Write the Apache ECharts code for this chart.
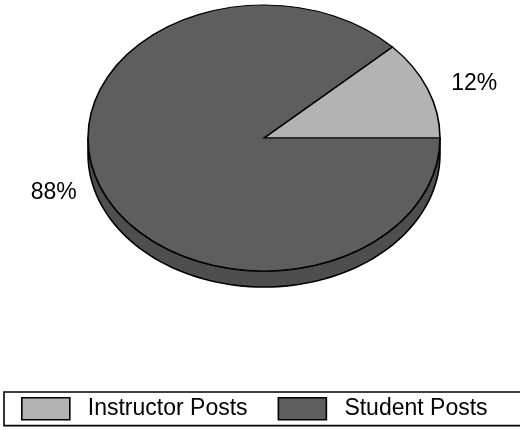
<!DOCTYPE html>
<html>
<head>
<meta charset="utf-8">
<script src="https://cdn.jsdelivr.net/npm/echarts@6/dist/echarts.min.js"></script>
<style>
html,body{margin:0;padding:0;background:#fff;}
#chart{width:520px;height:430px;}
</style>
</head>
<body>
<div id="chart"></div>
<script>
const categories = ['Instructor Posts', 'Student Posts'];
const values = [12, 88];
const topColors = ['#b3b3b3', '#5e5e5e'];
const sideColors = ['#8c8c8c', '#4e4e4e'];

const FONT = '"Liberation Sans", Arial, sans-serif';
const total = values.reduce((a, b) => a + b, 0);
const starts = [];
let acc = 0;
values.forEach(v => { starts.push(acc); acc += v; });

const CX = 264, CY = 138, RX = 176, RY = 133, DEPTH = 16;

function makeRender(i) {
  return function (params, api) {
    const s0 = api.value(0), s1 = api.value(1);
    const a0 = s0 / total * Math.PI * 2;
    const a1 = s1 / total * Math.PI * 2;
    const children = [];
    const lo = Math.max(a0, Math.PI), hi = Math.min(a1, Math.PI * 2);
    if (hi > lo) {
      const pts = [];
      const n = 80;
      for (let k = 0; k <= n; k++) {
        const t = lo + (hi - lo) * k / n;
        pts.push([CX + RX * Math.cos(t), CY - RY * Math.sin(t)]);
      }
      for (let k = n; k >= 0; k--) {
        const t = lo + (hi - lo) * k / n;
        pts.push([CX + RX * Math.cos(t), CY - RY * Math.sin(t) + DEPTH]);
      }
      children.push({
        type: 'polygon',
        shape: { points: pts },
        style: { fill: sideColors[i], stroke: '#000', lineWidth: 1.6 }
      });
    }
    children.push({
      type: 'group',
      x: CX, y: CY, scaleY: RY / RX,
      children: [{
        type: 'sector',
        shape: { cx: 0, cy: 0, r0: 0, r: RX, startAngle: -a1, endAngle: -a0, clockwise: true },
        style: { fill: topColors[i], stroke: '#000', lineWidth: 1.6, strokeNoScale: true }
      }]
    });
    const m = (a0 + a1) / 2;
    children.push({
      type: 'text',
      x: CX + RX * 1.285 * Math.cos(m),
      y: CY - RY * 1.12 * Math.sin(m),
      style: {
        text: Math.round(values[i] / total * 100) + '%',
        fill: '#000',
        fontSize: 23,
        fontFamily: FONT,
        align: 'center',
        verticalAlign: 'middle'
      }
    });
    return { type: 'group', children: children };
  };
}

const series = categories.map((name, i) => ({
  name: name,
  type: 'custom',
  coordinateSystem: 'none',
  itemStyle: { color: topColors[i] },
  data: [[starts[i], starts[i] + values[i]]],
  renderItem: makeRender(i),
  silent: true
}));

const chart = echarts.init(document.getElementById('chart'), null, { renderer: 'canvas' });
chart.setOption({
  animation: false,
  backgroundColor: '#fff',
  legend: {
    data: categories,
    left: 4,
    top: 392,
    width: 500,
    orient: 'horizontal',
    icon: 'rect',
    itemWidth: 48,
    itemHeight: 22,
    itemGap: 30,
    padding: [5, 34, 5, 17],
    borderColor: '#000',
    borderWidth: 1.6,
    itemStyle: { borderColor: '#000', borderWidth: 1.6 },
    textStyle: { fontSize: 23, fontFamily: FONT, color: '#000', padding: [0, 0, 0, 13] },
    selectedMode: false
  },
  series: series
});
</script>
</body>
</html>
